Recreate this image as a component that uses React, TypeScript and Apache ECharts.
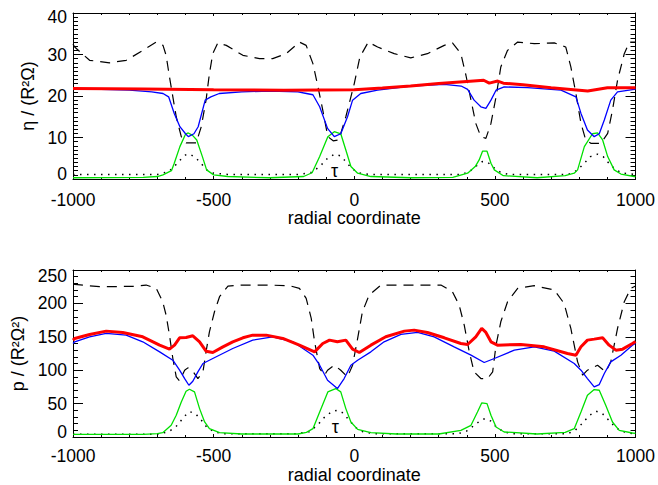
import React, { useEffect, useRef } from 'react';
import * as echarts from 'echarts';

type Pt = [number, number];

// Tick labels
const X_TICKS = ['-1000', '-500', '0', '500', '1000'];
const ETA_TICKS = ['0', '10', '20', '30', '40'];
const P_TICKS = ['0', '50', '100', '150', '200', '250'];

// Where the "τ" tag sits beside the dotted curve in each panel
const TAU_AT_ETA: Pt = [-70, 1.9];
const TAU_AT_P: Pt = [-67, 14.5];

// ---- Upper panel: eta / (R^2 Omega) ----
const etaDashed: Pt[] = [
  [-1000, 32.5], [-994, 31.8], [-941, 28.6], [-870, 28.0], [-811, 28.6], [-751, 31.0], [-704, 33.0],
  [-680, 32.2], [-669, 29.8], [-657, 24.6], [-645, 19.8], [-633, 15.0], [-615, 10.2], [-598, 8.7],
  [-562, 8.7], [-544, 12.6], [-527, 19.0], [-515, 25.4], [-503, 30.2], [-485, 32.8], [-455, 32.2],
  [-396, 29.8], [-337, 29.0], [-290, 29.0], [-242, 30.2], [-195, 33.0], [-171, 32.2], [-147, 27.8],
  [-129, 22.2], [-112, 16.6], [-94, 10.2], [-75, 9.2], [-55, 9.4], [-30, 15.0], [0, 23.0], [20, 29.4],
  [50, 33.0], [83, 31.8], [142, 30.2], [201, 29.2], [260, 30.2], [320, 32.2], [349, 32.8], [379, 30.2],
  [397, 25.0], [415, 19.0], [432, 13.4], [450, 10.2], [468, 9.8], [486, 13.4], [504, 19.8], [521, 27.0],
  [545, 31.0], [581, 33.0], [640, 32.6], [711, 32.8], [752, 31.8], [770, 27.0], [788, 20.6], [806, 13.4],
  [823, 9.4], [841, 8.6], [877, 8.6], [901, 11.0], [918, 16.6], [936, 23.8], [960, 30.2], [978, 33.0],
  [1000, 33.0],
];

const etaRed: Pt[] = [
  [-1000, 21.8], [-750, 21.7], [-500, 21.5], [-250, 21.4], [0, 21.5], [100, 21.9], [200, 22.4],
  [300, 23.0], [400, 23.5], [460, 23.8], [480, 23.1], [510, 23.6], [530, 23.1], [600, 22.7],
  [700, 22.0], [800, 21.4], [830, 21.2], [900, 22.0], [1000, 22.0],
];

const etaBlue: Pt[] = [
  [-1000, 21.6], [-900, 21.6], [-800, 21.4], [-720, 21.0], [-680, 20.6], [-660, 19.8], [-640, 15.8],
  [-620, 12.6], [-600, 10.9], [-590, 10.2], [-570, 10.9], [-555, 12.6], [-530, 19.0], [-510, 19.8],
  [-480, 20.6], [-400, 21.0], [-300, 21.2], [-200, 21.0], [-170, 20.6], [-147, 20.3], [-123, 17.4],
  [-95, 12.2], [-71, 10.2], [-48, 10.9], [-24, 15.0], [-6, 19.0], [23, 20.6], [83, 21.4], [201, 22.4],
  [320, 22.8], [380, 22.4], [403, 21.6], [426, 19.0], [450, 17.4], [468, 17.0], [486, 19.0], [504, 21.4],
  [533, 22.2], [616, 22.0], [735, 21.4], [788, 19.8], [806, 15.8], [829, 11.8], [853, 10.2], [871, 10.9],
  [889, 14.2], [912, 19.0], [936, 21.0], [995, 21.6], [1000, 21.6],
];

const etaGreen: Pt[] = [
  [-1000, 0.3], [-750, 0.4], [-700, 0.6], [-680, 1.0], [-650, 2.0], [-640, 3.8], [-620, 7.8],
  [-600, 10.8], [-590, 11.1], [-575, 10.5], [-560, 9.4], [-540, 5.4], [-525, 2.2], [-500, 1.0],
  [-450, 0.6], [-300, 0.3], [-180, 0.6], [-150, 1.5], [-123, 5.4], [-94, 10.2], [-71, 11.4],
  [-48, 10.9], [-30, 7.0], [-12, 3.0], [12, 1.4], [59, 0.6], [200, 0.3], [350, 0.4], [403, 1.4],
  [430, 3.0], [444, 4.6], [456, 6.7], [472, 6.7], [486, 3.8], [498, 2.2], [530, 0.8], [650, 0.3],
  [750, 0.8], [782, 1.4], [794, 2.2], [818, 7.8], [847, 10.9], [865, 11.1], [883, 9.4], [901, 5.4],
  [924, 2.2], [948, 1.2], [995, 0.6], [1000, 0.6],
];

const etaTau: Pt[] = [
  [-1000, 1.1], [-700, 1.1], [-660, 1.8], [-640, 3.0], [-620, 4.5], [-600, 5.8], [-585, 6.0],
  [-565, 5.2], [-545, 3.8], [-525, 2.2], [-500, 1.4], [-450, 1.1], [-200, 1.1], [-150, 1.6],
  [-120, 3.2], [-95, 5.0], [-70, 6.0], [-50, 5.6], [-30, 4.2], [-10, 2.6], [15, 1.5], [50, 1.1],
  [380, 1.1], [410, 1.8], [435, 3.2], [455, 4.2], [475, 4.0], [495, 2.8], [520, 1.6], [550, 1.1],
  [760, 1.1], [790, 2.0], [815, 3.6], [840, 5.4], [865, 6.0], [885, 5.4], [905, 3.8], [930, 2.2],
  [955, 1.4], [1000, 1.1],
];

// ---- Lower panel: p / (R^2 Omega^2) ----
const pDashed: Pt[] = [
  [-1000, 229], [-994, 228.5], [-906, 225], [-787, 225.5], [-740, 227.5], [-704, 222.5], [-681, 202.5],
  [-669, 182.5], [-657, 152.5], [-645, 117.5], [-633, 90], [-621, 84], [-603, 100], [-592, 103.5],
  [-574, 98.5], [-556, 87.5], [-538, 97.5], [-527, 127.5], [-515, 157.5], [-497, 187.5], [-479, 210],
  [-449, 226], [-408, 227.5], [-313, 227.5], [-230, 226.5], [-195, 222.5], [-171, 207.5], [-153, 177.5],
  [-141, 142.5], [-123, 102.5], [-106, 92.5], [-95, 100], [-71, 107.5], [-48, 100], [-24, 90],
  [-6, 107.5], [12, 147.5], [29, 187.5], [53, 212.5], [95, 227.5], [201, 227.5], [308, 227.5],
  [349, 217.5], [373, 197.5], [391, 167.5], [409, 127.5], [426, 97.5], [450, 87.5], [474, 87.5],
  [492, 97.5], [504, 137.5], [521, 172.5], [545, 202.5], [581, 222.5], [640, 226.5], [711, 220],
  [746, 200], [770, 162.5], [794, 112.5], [812, 92.5], [829, 100], [865, 107.5], [894, 97.5],
  [912, 112.5], [936, 162.5], [960, 202.5], [983, 222.5], [1000, 226],
];

const pRed: Pt[] = [
  [-1000, 145], [-994, 147.5], [-941, 153.5], [-882, 158.5], [-823, 156.5], [-752, 150], [-692, 137.5],
  [-657, 131.5], [-639, 137.5], [-621, 148.5], [-598, 149], [-574, 151.5], [-550, 142.5], [-527, 128.5],
  [-503, 126.5], [-467, 135], [-432, 142.5], [-396, 148.5], [-361, 152.5], [-313, 152.5], [-254, 147.5],
  [-195, 137.5], [-141, 127.5], [-112, 140], [-88, 145], [-60, 142.5], [-30, 145], [-6, 131.5],
  [18, 126.5], [59, 137.5], [112, 150], [178, 158.5], [213, 160], [260, 156.5], [320, 148.5],
  [379, 140], [403, 138.5], [432, 150], [453, 162.5], [468, 156.5], [486, 142.5], [509, 137.5],
  [592, 138.5], [675, 135], [758, 125], [788, 122.5], [806, 135], [829, 145], [853, 146.5],
  [883, 148.5], [906, 137.5], [930, 130], [954, 131.5], [989, 140], [1000, 143],
];

const pBlue: Pt[] = [
  [-1000, 140], [-994, 142.5], [-941, 150], [-882, 155], [-811, 152.5], [-752, 142.5], [-692, 127.5],
  [-645, 115], [-621, 100], [-603, 87.5], [-588, 77.5], [-574, 83.5], [-556, 97.5], [-538, 110],
  [-503, 117.5], [-432, 132.5], [-361, 145], [-290, 150], [-218, 142.5], [-147, 122.5], [-123, 107.5],
  [-95, 85], [-60, 72.5], [-36, 87.5], [-12, 107.5], [12, 115], [59, 127.5], [106, 142.5],
  [166, 153.5], [225, 156.5], [284, 150], [355, 135], [415, 122.5], [462, 111.5], [498, 117.5],
  [569, 130], [640, 135], [711, 128.5], [782, 110], [806, 100], [829, 87.5], [853, 75], [871, 78.5],
  [889, 95], [912, 112.5], [948, 122.5], [989, 137.5], [1000, 140],
];

const pGreen: Pt[] = [
  [-1000, 4], [-750, 4], [-700, 5], [-681, 6.5], [-651, 17.5], [-633, 32.5], [-615, 52.5],
  [-598, 68.5], [-586, 71.5], [-568, 67.5], [-550, 42.5], [-532, 22.5], [-515, 12.5], [-479, 6.5],
  [-400, 4.5], [-200, 4.5], [-170, 7], [-147, 12.5], [-123, 37.5], [-94, 67.5], [-66, 72.5],
  [-48, 67.5], [-30, 42.5], [-12, 22.5], [12, 11.5], [59, 6.5], [150, 4.5], [300, 4.5], [379, 10],
  [415, 17.5], [438, 37.5], [453, 51], [472, 50], [486, 32.5], [504, 15], [533, 7.5], [650, 4.5],
  [750, 7], [782, 12.5], [806, 37.5], [829, 62.5], [853, 71], [871, 70], [894, 47.5], [918, 22.5],
  [942, 10], [989, 6], [1000, 5.5],
];

const pTau: Pt[] = [
  [-1000, 4], [-700, 4], [-660, 8], [-635, 15], [-615, 25], [-595, 35], [-585, 38], [-565, 35],
  [-545, 26], [-525, 15], [-500, 8], [-470, 5], [-200, 5], [-160, 8], [-130, 18], [-105, 30],
  [-80, 38], [-60, 40], [-40, 36], [-20, 26], [5, 14], [30, 8], [70, 5], [370, 5], [400, 9],
  [425, 17], [450, 25], [465, 27.5], [485, 24], [505, 15], [530, 8], [560, 5], [760, 5], [785, 10],
  [810, 20], [835, 32], [860, 38.5], [880, 36], [905, 25], [930, 14], [955, 8], [990, 5], [1000, 5],
];

const FONT = '"Liberation Sans", Arial, Helvetica, sans-serif';
const TICK_FS = 17.5;
const INK = '#000';

function xAxes(grid: number, nameGap: number, labelMargin: number) {
  const common = {
    gridIndex: grid,
    type: 'value',
    min: -1000,
    max: 1000,
    interval: 500,
    splitLine: { show: false },
    axisLine: { show: true, onZero: false, lineStyle: { color: INK, width: 1 } },
    axisTick: { show: true, inside: true, length: 3, lineStyle: { color: INK, width: 1 } },
    minorTick: { show: true, splitNumber: 5, length: 2, lineStyle: { color: INK, width: 1 } },
  };
  return [
    {
      ...common,
      position: 'bottom',
      name: 'radial coordinate',
      nameLocation: 'middle',
      nameGap,
      nameTextStyle: { fontFamily: FONT, fontSize: 18, color: INK },
      axisLabel: {
        margin: labelMargin,
        fontFamily: FONT,
        fontSize: TICK_FS,
        color: INK,
        formatter: (v: number) => X_TICKS[Math.round((v + 1000) / 500)] ?? '',
      },
    },
    { ...common, position: 'top', axisLabel: { show: false } },
  ];
}

function yAxes(grid: number, max: number, step: number, labels: string[], minorSplit: number,
  name: string, nameGap: number, loPad: number, hiPad: number) {
  const common = {
    gridIndex: grid,
    type: 'value',
    min: 0,
    max,
    interval: step,
    splitLine: { show: false },
    axisLine: { show: true, onZero: false, lineStyle: { color: INK, width: 1 } },
    axisTick: { show: true, inside: true, length: 10, lineStyle: { color: INK, width: 1 } },
    minorTick: { show: true, splitNumber: minorSplit, length: 5, lineStyle: { color: INK, width: 1 } },
  };
  const tokenStyle = { fontFamily: FONT, fontSize: TICK_FS, color: INK };
  return [
    {
      ...common,
      position: 'left',
      name,
      nameLocation: 'middle',
      nameGap,
      nameRotate: 90,
      nameTextStyle: { fontFamily: FONT, fontSize: 18, color: INK },
      axisLabel: {
        margin: 6,
        ...tokenStyle,
        formatter: (v: number) => {
          const i = Math.round(v / step);
          const t = labels[i] ?? '';
          if (i === 0) return `{lo|${t}}`;
          if (i === labels.length - 1) return `{hi|${t}}`;
          return t;
        },
        rich: {
          lo: { ...tokenStyle, padding: [0, 0, loPad, 0] },
          hi: { ...tokenStyle, padding: [hiPad, 0, 0, 0] },
        },
      },
    },
    { ...common, position: 'right', axisLabel: { show: false } },
  ];
}

function curve(data: Pt[], axis: number, color: string, width: number, type: any, z: number, extra = {}) {
  return {
    type: 'line',
    data,
    xAxisIndex: axis,
    yAxisIndex: axis,
    symbol: 'none',
    showSymbol: false,
    silent: true,
    z,
    lineStyle: { color, width, type, cap: 'butt' },
    ...extra,
  };
}

// Greek tag placed next to the dotted curve
function tauTag(at: Pt) {
  return {
    markPoint: {
      silent: true,
      symbol: 'circle',
      symbolSize: 1,
      itemStyle: { color: 'rgba(0,0,0,0)' },
      label: { show: true, position: 'inside', formatter: 'τ', color: INK, fontFamily: FONT, fontSize: 18 },
      data: [{ coord: at }],
    },
  };
}

export default function App() {
  const ref = useRef<HTMLDivElement>(null);

  useEffect(() => {
    if (!ref.current) return;
    const chart = echarts.init(ref.current, undefined, { renderer: 'svg' });
    const dash = [10, 7];
    const dots = [1.5, 5.5];
    chart.setOption({
      animation: false,
      grid: [
        { left: 73, top: 13, width: 563, height: 166 },
        { left: 73, top: 270, width: 563, height: 167 },
      ],
      xAxis: [...xAxes(0, 27, 11.5), ...xAxes(1, 19, 10)],
      yAxis: [
        ...yAxes(0, 40, 10, ETA_TICKS, 10, 'η / (R²Ω)', 34, 10, 8),
        ...yAxes(1, 250, 50, P_TICKS, 5, 'p / (R²Ω²)', 44, 10, 12),
      ],
      series: [
        curve(etaDashed, 0, INK, 1.2, dash, 2),
        curve(etaTau, 0, INK, 1.5, dots, 2, tauTag(TAU_AT_ETA)),
        curve(etaGreen, 0, '#00e000', 1.3, 'solid', 3),
        curve(etaBlue, 0, '#0000ff', 1.3, 'solid', 4),
        curve(etaRed, 0, '#ff0000', 3, 'solid', 5),
        curve(pDashed, 2, INK, 1.2, dash, 2),
        curve(pTau, 2, INK, 1.5, dots, 2, tauTag(TAU_AT_P)),
        curve(pGreen, 2, '#00e000', 1.3, 'solid', 3),
        curve(pBlue, 2, '#0000ff', 1.3, 'solid', 4),
        curve(pRed, 2, '#ff0000', 3, 'solid', 5),
      ],
    });
    return () => chart.dispose();
  }, []);

  return (
    <div
      ref={ref}
      style={{ position: 'fixed', left: 0, top: 0, width: 658, height: 485, background: '#fff' }}
    />
  );
}
